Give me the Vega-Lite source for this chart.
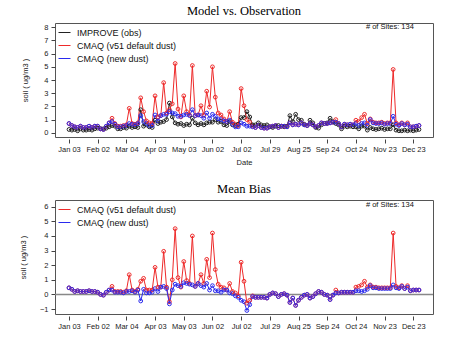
{
  "$schema": "https://vega.github.io/schema/vega-lite/v6.json",
  "padding": {"left": 18, "top": 4, "right": 5, "bottom": 0},
  "background": "white",
  "config": {
    "font": "Liberation Sans",
    "view": {"stroke": "#555", "strokeWidth": 1},
    "title": {"font": "Liberation Serif", "fontSize": 12.5, "fontWeight": "normal", "color": "#000", "offset": 5},
    "axis": {"grid": false, "labelFont": "Liberation Sans", "labelFontSize": 7.5, "labelColor": "#222", "titleFont": "Liberation Sans", "titleFontSize": 7.5, "titleFontWeight": "normal", "titleColor": "#222", "tickColor": "#444", "domain": false, "tickSize": 4, "labelOverlap": false},
    "axisX": {"values": [0,1,2,3,4,5,6,7,8,9,10,11,12,13,14,15,16,17,18,19,20,21,22,23,24,25,26,27,28,29,30,31,32,33,34,35,36,37,38,39,40,41,42,43,44,45,46,47,48,49,50,51,52,53,54,55,56,57,58,59,60,61,62,63,64,65,66,67,68,69,70,71,72,73,74,75,76,77,78,79,80,81,82,83,84,85,86,87,88,89,90,91,92,93,94,95,96,97,98,99,100,101,102,103,104,105,106,107,108,109,110,111,112,113,114,115,116,117,118,119,120,121,122],
      "labelExpr": "datum.value % 10 == 0 ? ['Jan 03','Feb 02','Mar 04','Apr 03','May 03','Jun 02','Jul 02','Jul 29','Aug 25','Sep 24','Oct 24','Nov 23','Dec 23'][datum.value / 10] : ''",
      "labelOverlap": false, "labelFlush": false, "labelBound": false, "titlePadding": 6, "offset": 2, "tickSize": 4, "labelPadding": 2},
    "axisY": {"labelOverlap": false, "labelPadding": 3},
    "legend": {"orient": "top-left", "title": null, "symbolType": "stroke", "symbolStrokeWidth": 1, "symbolSize": 144, "labelFontSize": 9, "labelFont": "Liberation Sans", "labelColor": "#111", "offset": 3, "padding": 0, "rowPadding": 1, "labelOffset": 6},
    "concat": {"spacing": 15}
  },
  "datasets": {
    "conc": [
      {"i":0,"obs":0.25,"v51":0.7,"new":0.7},{"i":1,"obs":0.2,"v51":0.55,"new":0.55},{"i":2,"obs":0.25,"v51":0.45,"new":0.45},{"i":3,"obs":0.15,"v51":0.4,"new":0.4},{"i":4,"obs":0.3,"v51":0.5,"new":0.5},{"i":5,"obs":0.2,"v51":0.4,"new":0.4},{"i":6,"obs":0.2,"v51":0.4,"new":0.4},{"i":7,"obs":0.25,"v51":0.5,"new":0.5},{"i":8,"obs":0.2,"v51":0.4,"new":0.4},{"i":9,"obs":0.3,"v51":0.5,"new":0.5},
      {"i":10,"obs":0.35,"v51":0.5,"new":0.5},{"i":11,"obs":0.3,"v51":0.3,"new":0.3},{"i":12,"obs":0.3,"v51":0.25,"new":0.25},{"i":13,"obs":0.35,"v51":0.5,"new":0.5},{"i":14,"obs":0.45,"v51":0.75,"new":0.75},{"i":15,"obs":0.55,"v51":1.1,"new":0.85},{"i":16,"obs":0.5,"v51":0.7,"new":0.65},{"i":17,"obs":0.3,"v51":0.5,"new":0.45},{"i":18,"obs":0.3,"v51":0.5,"new":0.45},{"i":19,"obs":0.4,"v51":0.55,"new":0.5},
      {"i":20,"obs":0.35,"v51":0.6,"new":0.55},{"i":21,"obs":0.5,"v51":1.85,"new":0.7},{"i":22,"obs":0.4,"v51":0.7,"new":0.65},{"i":23,"obs":0.45,"v51":0.65,"new":0.6},{"i":24,"obs":0.4,"v51":0.75,"new":0.7},{"i":25,"obs":1.75,"v51":2.65,"new":1.3},{"i":26,"obs":0.5,"v51":1.6,"new":0.85},{"i":27,"obs":0.6,"v51":0.9,"new":0.7},{"i":28,"obs":0.45,"v51":0.75,"new":0.55},{"i":29,"obs":0.4,"v51":0.7,"new":0.55},
      {"i":30,"obs":0.95,"v51":2.8,"new":1.35},{"i":31,"obs":0.7,"v51":1.2,"new":0.9},{"i":32,"obs":0.8,"v51":1.3,"new":1.3},{"i":33,"obs":0.85,"v51":3.8,"new":1.4},{"i":34,"obs":1.0,"v51":1.5,"new":1.4},{"i":35,"obs":2.25,"v51":1.75,"new":1.6},{"i":36,"obs":1.2,"v51":2.2,"new":1.5},{"i":37,"obs":0.75,"v51":5.25,"new":1.45},{"i":38,"obs":0.65,"v51":1.8,"new":1.25},{"i":39,"obs":0.7,"v51":1.2,"new":1.25},
      {"i":40,"obs":0.55,"v51":2.8,"new":1.35},{"i":41,"obs":0.65,"v51":1.6,"new":1.4},{"i":42,"obs":0.6,"v51":1.35,"new":1.3},{"i":43,"obs":1.1,"v51":5.1,"new":1.75},{"i":44,"obs":0.75,"v51":1.3,"new":1.3},{"i":45,"obs":0.6,"v51":1.35,"new":1.35},{"i":46,"obs":0.7,"v51":2.05,"new":1.3},{"i":47,"obs":0.6,"v51":1.35,"new":1.1},{"i":48,"obs":0.75,"v51":3.15,"new":1.5},{"i":49,"obs":0.8,"v51":1.95,"new":1.1},
      {"i":50,"obs":0.8,"v51":5.0,"new":1.4},{"i":51,"obs":1.0,"v51":2.7,"new":1.25},{"i":52,"obs":0.8,"v51":1.5,"new":1.05},{"i":53,"obs":0.85,"v51":1.35,"new":1.0},{"i":54,"obs":0.6,"v51":1.05,"new":0.9},{"i":55,"obs":0.55,"v51":0.85,"new":0.85},{"i":56,"obs":0.85,"v51":1.6,"new":0.95},{"i":57,"obs":0.6,"v51":0.8,"new":0.65},{"i":58,"obs":0.55,"v51":0.65,"new":0.45},{"i":59,"obs":0.65,"v51":0.55,"new":0.45},
      {"i":60,"obs":1.15,"v51":3.35,"new":0.75},{"i":61,"obs":1.15,"v51":2.05,"new":0.65},{"i":62,"obs":1.6,"v51":1.0,"new":0.5},{"i":63,"obs":1.2,"v51":0.8,"new":0.5},{"i":64,"obs":0.6,"v51":0.5,"new":0.45},{"i":65,"obs":0.6,"v51":0.4,"new":0.4},{"i":66,"obs":0.75,"v51":0.55,"new":0.55},{"i":67,"obs":0.6,"v51":0.4,"new":0.4},{"i":68,"obs":0.55,"v51":0.35,"new":0.35},{"i":69,"obs":0.6,"v51":0.35,"new":0.35},
      {"i":70,"obs":0.45,"v51":0.45,"new":0.45},{"i":71,"obs":0.4,"v51":0.5,"new":0.5},{"i":72,"obs":0.5,"v51":0.55,"new":0.55},{"i":73,"obs":0.55,"v51":0.4,"new":0.4},{"i":74,"obs":0.5,"v51":0.5,"new":0.5},{"i":75,"obs":0.45,"v51":0.5,"new":0.5},{"i":76,"obs":0.5,"v51":0.45,"new":0.45},{"i":77,"obs":1.3,"v51":0.75,"new":0.75},{"i":78,"obs":0.85,"v51":0.6,"new":0.6},{"i":79,"obs":1.4,"v51":0.65,"new":0.65},
      {"i":80,"obs":1.0,"v51":0.6,"new":0.6},{"i":81,"obs":0.95,"v51":0.75,"new":0.75},{"i":82,"obs":0.65,"v51":0.6,"new":0.6},{"i":83,"obs":0.55,"v51":0.55,"new":0.55},{"i":84,"obs":0.95,"v51":0.7,"new":0.7},{"i":85,"obs":0.75,"v51":0.6,"new":0.6},{"i":86,"obs":0.4,"v51":0.45,"new":0.45},{"i":87,"obs":0.35,"v51":0.55,"new":0.55},{"i":88,"obs":0.6,"v51":0.75,"new":0.75},{"i":89,"obs":0.7,"v51":0.7,"new":0.7},
      {"i":90,"obs":0.75,"v51":0.7,"new":0.7},{"i":91,"obs":1.1,"v51":0.75,"new":0.75},{"i":92,"obs":0.85,"v51":0.8,"new":0.8},{"i":93,"obs":0.7,"v51":1.0,"new":0.8},{"i":94,"obs":0.6,"v51":0.7,"new":0.7},{"i":95,"obs":0.3,"v51":0.45,"new":0.45},{"i":96,"obs":0.5,"v51":0.65,"new":0.65},{"i":97,"obs":0.45,"v51":0.6,"new":0.6},{"i":98,"obs":0.5,"v51":0.65,"new":0.65},{"i":99,"obs":0.45,"v51":0.6,"new":0.6},
      {"i":100,"obs":0.45,"v51":0.95,"new":0.7},{"i":101,"obs":0.3,"v51":0.85,"new":0.55},{"i":102,"obs":0.5,"v51":1.15,"new":0.7},{"i":103,"obs":0.5,"v51":1.4,"new":0.75},{"i":104,"obs":0.2,"v51":0.7,"new":0.55},{"i":105,"obs":0.4,"v51":1.05,"new":1.0},{"i":106,"obs":0.3,"v51":0.8,"new":0.75},{"i":107,"obs":0.25,"v51":0.75,"new":0.7},{"i":108,"obs":0.3,"v51":0.75,"new":0.7},{"i":109,"obs":0.35,"v51":0.8,"new":0.75},
      {"i":110,"obs":0.25,"v51":0.7,"new":0.65},{"i":111,"obs":0.3,"v51":0.75,"new":0.7},{"i":112,"obs":0.3,"v51":0.75,"new":0.7},{"i":113,"obs":0.6,"v51":4.8,"new":1.25},{"i":114,"obs":0.2,"v51":0.75,"new":0.65},{"i":115,"obs":0.15,"v51":0.6,"new":0.55},{"i":116,"obs":0.15,"v51":0.75,"new":0.7},{"i":117,"obs":0.2,"v51":0.6,"new":0.6},{"i":118,"obs":0.15,"v51":0.75,"new":0.65},{"i":119,"obs":0.2,"v51":0.45,"new":0.45},
      {"i":120,"obs":0.15,"v51":0.45,"new":0.45},{"i":121,"obs":0.2,"v51":0.5,"new":0.5},{"i":122,"obs":0.25,"v51":0.55,"new":0.55}
    ],
    "bias": [
      {"i":0,"v51":0.45,"new":0.45},{"i":1,"v51":0.35,"new":0.35},{"i":2,"v51":0.2,"new":0.2},{"i":3,"v51":0.25,"new":0.25},{"i":4,"v51":0.2,"new":0.2},{"i":5,"v51":0.2,"new":0.2},{"i":6,"v51":0.2,"new":0.2},{"i":7,"v51":0.25,"new":0.25},{"i":8,"v51":0.2,"new":0.2},{"i":9,"v51":0.2,"new":0.2},
      {"i":10,"v51":0.15,"new":0.15},{"i":11,"v51":0,"new":0},{"i":12,"v51":-0.05,"new":-0.05},{"i":13,"v51":0.15,"new":0.15},{"i":14,"v51":0.3,"new":0.3},{"i":15,"v51":0.55,"new":0.3},{"i":16,"v51":0.2,"new":0.15},{"i":17,"v51":0.2,"new":0.15},{"i":18,"v51":0.2,"new":0.15},{"i":19,"v51":0.15,"new":0.1},
      {"i":20,"v51":0.25,"new":0.2},{"i":21,"v51":1.35,"new":0.2},{"i":22,"v51":0.3,"new":0.25},{"i":23,"v51":0.2,"new":0.15},{"i":24,"v51":0.35,"new":0.3},{"i":25,"v51":0.9,"new":-0.45},{"i":26,"v51":1.1,"new":0.35},{"i":27,"v51":0.3,"new":0.1},{"i":28,"v51":0.3,"new":0.1},{"i":29,"v51":0.3,"new":0.15},
      {"i":30,"v51":1.85,"new":0.4},{"i":31,"v51":0.5,"new":0.2},{"i":32,"v51":0.5,"new":0.5},{"i":33,"v51":2.95,"new":0.55},{"i":34,"v51":0.5,"new":0.4},{"i":35,"v51":-0.5,"new":-0.65},{"i":36,"v51":1.0,"new":0.3},{"i":37,"v51":4.5,"new":0.7},{"i":38,"v51":1.15,"new":0.6},{"i":39,"v51":0.5,"new":0.55},
      {"i":40,"v51":2.25,"new":0.8},{"i":41,"v51":0.95,"new":0.75},{"i":42,"v51":0.75,"new":0.7},{"i":43,"v51":4.0,"new":0.65},{"i":44,"v51":0.55,"new":0.55},{"i":45,"v51":0.75,"new":0.75},{"i":46,"v51":1.35,"new":0.6},{"i":47,"v51":0.75,"new":0.5},{"i":48,"v51":2.4,"new":0.75},{"i":49,"v51":1.15,"new":0.3},
      {"i":50,"v51":4.2,"new":0.6},{"i":51,"v51":1.7,"new":0.25},{"i":52,"v51":0.7,"new":0.25},{"i":53,"v51":0.5,"new":0.15},{"i":54,"v51":0.45,"new":0.3},{"i":55,"v51":0.3,"new":0.3},{"i":56,"v51":0.75,"new":0.1},{"i":57,"v51":0.2,"new":0.05},{"i":58,"v51":0.1,"new":-0.1},{"i":59,"v51":-0.1,"new":-0.2},
      {"i":60,"v51":2.2,"new":-0.4},{"i":61,"v51":0.9,"new":-0.5},{"i":62,"v51":-0.6,"new":-1.1},{"i":63,"v51":-0.4,"new":-0.7},{"i":64,"v51":-0.1,"new":-0.15},{"i":65,"v51":-0.2,"new":-0.2},{"i":66,"v51":-0.2,"new":-0.2},{"i":67,"v51":-0.2,"new":-0.2},{"i":68,"v51":-0.2,"new":-0.2},{"i":69,"v51":-0.25,"new":-0.25},
      {"i":70,"v51":0,"new":0},{"i":71,"v51":0.1,"new":0.1},{"i":72,"v51":0.05,"new":0.05},{"i":73,"v51":-0.15,"new":-0.15},{"i":74,"v51":0,"new":0},{"i":75,"v51":0.05,"new":0.05},{"i":76,"v51":-0.05,"new":-0.05},{"i":77,"v51":-0.55,"new":-0.55},{"i":78,"v51":-0.25,"new":-0.25},{"i":79,"v51":-0.75,"new":-0.75},
      {"i":80,"v51":-0.4,"new":-0.4},{"i":81,"v51":-0.2,"new":-0.2},{"i":82,"v51":-0.05,"new":-0.05},{"i":83,"v51":0,"new":0},{"i":84,"v51":-0.25,"new":-0.25},{"i":85,"v51":-0.15,"new":-0.15},{"i":86,"v51":0.05,"new":0.05},{"i":87,"v51":0.2,"new":0.2},{"i":88,"v51":0.15,"new":0.15},{"i":89,"v51":0,"new":0},
      {"i":90,"v51":-0.05,"new":-0.05},{"i":91,"v51":-0.35,"new":-0.35},{"i":92,"v51":-0.05,"new":-0.05},{"i":93,"v51":0.3,"new":0.1},{"i":94,"v51":0.1,"new":0.1},{"i":95,"v51":0.15,"new":0.15},{"i":96,"v51":0.15,"new":0.15},{"i":97,"v51":0.15,"new":0.15},{"i":98,"v51":0.15,"new":0.15},{"i":99,"v51":0.15,"new":0.15},
      {"i":100,"v51":0.5,"new":0.25},{"i":101,"v51":0.55,"new":0.25},{"i":102,"v51":0.65,"new":0.2},{"i":103,"v51":0.9,"new":0.25},{"i":104,"v51":0.5,"new":0.35},{"i":105,"v51":0.65,"new":0.6},{"i":106,"v51":0.5,"new":0.45},{"i":107,"v51":0.5,"new":0.45},{"i":108,"v51":0.45,"new":0.4},{"i":109,"v51":0.45,"new":0.4},
      {"i":110,"v51":0.45,"new":0.4},{"i":111,"v51":0.45,"new":0.4},{"i":112,"v51":0.45,"new":0.4},{"i":113,"v51":4.2,"new":0.65},{"i":114,"v51":0.55,"new":0.45},{"i":115,"v51":0.45,"new":0.4},{"i":116,"v51":0.6,"new":0.55},{"i":117,"v51":0.4,"new":0.4},{"i":118,"v51":0.6,"new":0.5},{"i":119,"v51":0.25,"new":0.25},
      {"i":120,"v51":0.3,"new":0.3},{"i":121,"v51":0.3,"new":0.3},{"i":122,"v51":0.3,"new":0.3}
    ]
  },
  "resolve": {"scale": {"color": "independent"}},
  "vconcat": [
    {
      "title": {"text": "Model vs. Observation"},
      "width": 378,
      "height": 114,
      "layer": [
        {
          "data": {"name": "conc"},
          "transform": [{"fold": ["obs", "v51", "new"], "as": ["series", "value"]}],
          "mark": {"type": "line", "strokeWidth": 1, "point": {"filled": false, "size": 14, "strokeWidth": 1}},
          "encoding": {
            "x": {"field": "i", "type": "quantitative", "scale": {"domain": [-4.88, 126.88], "nice": false, "zero": false}, "axis": {"title": "Date"}},
            "y": {"field": "value", "type": "quantitative", "scale": {"domain": [-0.32, 8.32], "nice": false},
              "axis": {"values": [0,1,2,3,4,5,6,7,8], "title": "soil ( ug/m3 )", "titlePadding": 14}},
            "color": {"field": "series", "type": "nominal",
              "scale": {"domain": ["obs", "v51", "new"], "range": ["#222222", "#ee2a2a", "#2a2aee"]},
              "legend": {"labelExpr": "datum.label == 'obs' ? 'IMPROVE (obs)' : datum.label == 'v51' ? 'CMAQ (v51 default dust)' : 'CMAQ (new dust)'"}}
          }
        },
        {
          "data": {"values": [{"note": "# of Sites: 134"}]},
          "mark": {"type": "text", "align": "right", "baseline": "middle", "fontSize": 7.5, "font": "Liberation Sans", "color": "#111"},
          "encoding": {"x": {"datum": 120.2, "axis": {"title": "Date"}}, "y": {"datum": 8.05, "axis": {"values": [0,1,2,3,4,5,6,7,8], "title": "soil ( ug/m3 )", "titlePadding": 14}}, "text": {"field": "note"}}
        }
      ]
    },
    {
      "title": {"text": "Mean Bias"},
      "width": 378,
      "height": 114,
      "layer": [
        {
          "data": {"values": [{"z": 0}]},
          "mark": {"type": "rule", "color": "#888888", "strokeWidth": 1.5},
          "encoding": {"y": {"field": "z", "type": "quantitative", "axis": {"values": [-1,0,1,2,3,4,5,6], "title": "soil ( ug/m3 )", "titlePadding": 12}}}
        },
        {
          "data": {"name": "bias"},
          "transform": [{"fold": ["v51", "new"], "as": ["series", "value"]}],
          "mark": {"type": "line", "strokeWidth": 1, "point": {"filled": false, "size": 14, "strokeWidth": 1}},
          "encoding": {
            "x": {"field": "i", "type": "quantitative", "scale": {"domain": [-4.88, 126.88], "nice": false, "zero": false}, "axis": {"title": null}},
            "y": {"field": "value", "type": "quantitative", "scale": {"domain": [-1.34, 6.46], "nice": false},
              "axis": {"values": [-1,0,1,2,3,4,5,6], "title": "soil ( ug/m3 )", "titlePadding": 12}},
            "color": {"field": "series", "type": "nominal",
              "scale": {"domain": ["v51", "new"], "range": ["#ee2a2a", "#2a2aee"]},
              "legend": {"labelExpr": "datum.label == 'v51' ? 'CMAQ (v51 default dust)' : 'CMAQ (new dust)'"}}
          }
        },
        {
          "data": {"values": [{"note": "# of Sites: 134"}]},
          "mark": {"type": "text", "align": "right", "baseline": "middle", "fontSize": 7.5, "font": "Liberation Sans", "color": "#111"},
          "encoding": {"x": {"datum": 120.2, "axis": {"title": null}}, "y": {"datum": 6.15, "axis": {"values": [-1,0,1,2,3,4,5,6], "title": "soil ( ug/m3 )", "titlePadding": 12}}, "text": {"field": "note"}}
        }
      ]
    }
  ]
}
